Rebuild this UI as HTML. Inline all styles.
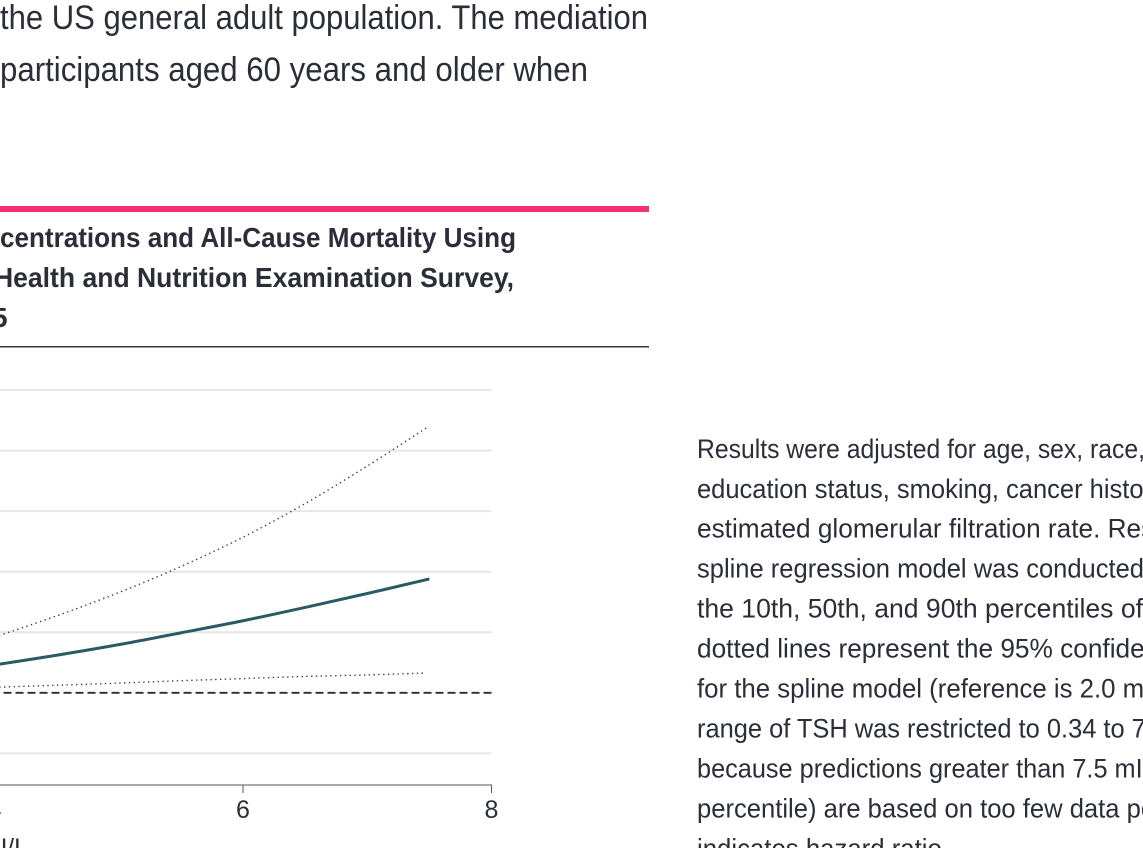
<!DOCTYPE html>
<html lang="en">
<head>
<meta charset="utf-8">
<title>TSH Concentrations and All-Cause Mortality</title>
<style>
  html, body { margin: 0; padding: 0; background: #fff; width: 1143px; height: 848px; overflow: hidden; }
  svg { display: block; position: absolute; left: 0; top: 0; }
  text { font-family: "Liberation Sans", sans-serif; fill: #2b2e38; }
  .lead { font-size: 34.5px; }
  .title { font-size: 28px; font-weight: bold; }
  .note { font-size: 27px; }
  .tick { font-size: 25px; text-anchor: middle; }
</style>
</head>
<body>
<svg id="page-svg" width="1143" height="848" viewBox="0 0 1143 848" xmlns="http://www.w3.org/2000/svg">
  <text class="lead" x="0" y="29" textLength="648" lengthAdjust="spacingAndGlyphs">the US general adult population. The mediation</text>
  <text class="lead" x="0" y="81" textLength="588" lengthAdjust="spacingAndGlyphs">participants aged 60 years and older when</text>

  <rect x="0" y="206" width="649" height="6" fill="#f62e75"/>

  <text class="title" x="0" y="247" textLength="516" lengthAdjust="spacingAndGlyphs">centrations and All-Cause Mortality Using</text>
  <text class="title" x="-6" y="287" textLength="520" lengthAdjust="spacingAndGlyphs">Health and Nutrition Examination Survey,</text>
  <text class="title" x="-8" y="327">5</text>

  <rect x="0" y="346" width="649" height="1.5" fill="#3a3c44"/>

  <g id="chart"></g>

  <text x="28" y="856" font-size="25" text-anchor="end">TSH, mIU/L</text>

  <g>
    <text class="note" x="697" y="458" textLength="448" lengthAdjust="spacingAndGlyphs">Results were adjusted for age, sex, race,</text>
    <text class="note" x="697" y="498" textLength="473" lengthAdjust="spacingAndGlyphs">education status, smoking, cancer history,</text>
    <text class="note" x="697" y="537.5" textLength="498" lengthAdjust="spacingAndGlyphs">estimated glomerular filtration rate. Results</text>
    <text class="note" x="697" y="577.5" textLength="447" lengthAdjust="spacingAndGlyphs">spline regression model was conducted</text>
    <text class="note" x="697" y="617.5" textLength="446" lengthAdjust="spacingAndGlyphs">the 10th, 50th, and 90th percentiles of</text>
    <text class="note" x="697" y="657.5" textLength="490" lengthAdjust="spacingAndGlyphs">dotted lines represent the 95% confidence</text>
    <text class="note" x="697" y="697.5" textLength="503" lengthAdjust="spacingAndGlyphs">for the spline model (reference is 2.0 mIU/L)</text>
    <text class="note" x="697" y="737.5" textLength="470" lengthAdjust="spacingAndGlyphs">range of TSH was restricted to 0.34 to 7.5</text>
    <text class="note" x="697" y="777.5" textLength="485" lengthAdjust="spacingAndGlyphs">because predictions greater than 7.5 mIU/L</text>
    <text class="note" x="697" y="817.5" textLength="505" lengthAdjust="spacingAndGlyphs">percentile) are based on too few data points.</text>
    <text class="note" x="697" y="857.5" textLength="252" lengthAdjust="spacingAndGlyphs">indicates hazard ratio.</text>
  </g>
</svg>
<script>
const xTickValues = [4, 6, 8];
const xTickLabels = ["4", "6", "8"];
const yGridValues = [0.8, 1.2, 1.4, 1.6, 1.8, 2.0];
const referenceValue = [1.0];
const tshValues = [4, 4.5, 5, 5.5, 6, 6.5, 7, 7.5];
const hazardRatio = [1.092, 1.124, 1.159, 1.198, 1.238, 1.282, 1.328, 1.376];
const upperTsh = [4, 4.5, 5, 5.5, 6, 6.5, 7, 7.48];
const upperCI = [1.184, 1.254, 1.331, 1.417, 1.514, 1.625, 1.749, 1.876];
const lowerTsh = [4, 4.5, 5, 5.5, 6, 6.5, 7, 7.45];
const lowerCI = [1.018, 1.025, 1.032, 1.040, 1.047, 1.054, 1.059, 1.065];

const SVG_NS = "http://www.w3.org/2000/svg";
const chart = document.getElementById("chart");

function xScale(v) { return 491.5 + (v - 8) * 124.25; }
function yScale(v) { return 692.8 - (v - 1) * 302.75; }

function make(tag, attrs) {
  const el = document.createElementNS(SVG_NS, tag);
  for (const k in attrs) el.setAttribute(k, attrs[k]);
  chart.appendChild(el);
  return el;
}

function curve(xs, ys) {
  const p = xs.map((x, i) => [xScale(x), yScale(ys[i])]);
  let d = "M" + p[0][0] + " " + p[0][1];
  for (let i = 0; i < p.length - 1; i++) {
    const p0 = p[i - 1] || p[i], p1 = p[i], p2 = p[i + 1], p3 = p[i + 2] || p[i + 1];
    d += " C" + (p1[0] + (p2[0] - p0[0]) / 6) + " " + (p1[1] + (p2[1] - p0[1]) / 6) +
         " " + (p2[0] - (p3[0] - p1[0]) / 6) + " " + (p2[1] - (p3[1] - p1[1]) / 6) +
         " " + p2[0] + " " + p2[1];
  }
  return d;
}

yGridValues.forEach(function (v) {
  const line = make("line", { x1: 0, x2: xScale(8), y1: yScale(v), y2: yScale(v), stroke: "#e6e6e6", "stroke-width": 2 });
  
  
});

referenceValue.forEach(function (v) {
  const line = make("line", { x1: xScale(8), x2: 0, y1: yScale(v), y2: yScale(v), stroke: "#2b2e38", "stroke-width": 1.8, "stroke-dasharray": "8 4" });
  
  
});

const axisLine = make("line", { x1: 0, x2: xScale(8) + 0.5, y1: 785, y2: 785, stroke: "#55575f", "stroke-width": 1 });



xTickValues.forEach(function (v, i) {
  const tick = make("line", { x1: xScale(v), x2: xScale(v), y1: 785, y2: 793, stroke: "#55575f", "stroke-width": 1 });
  
  
  const label = make("text", { x: xScale(v), y: 818, class: "tick" });
  
  
  label.textContent = xTickLabels[i];
});

const upperLine = make("path", { d: curve(upperTsh, upperCI), fill: "none", stroke: "#3c3f47", "stroke-width": 1.4, "stroke-dasharray": "1.4 3.4" });



const lowerLine = make("path", { d: curve(lowerTsh, lowerCI), fill: "none", stroke: "#3c3f47", "stroke-width": 1.4, "stroke-dasharray": "1.4 3.4" });



const hrLine = make("path", { d: curve(tshValues, hazardRatio), fill: "none", stroke: "#2a5a66", "stroke-width": 3 });


</script>
</body>
</html>
